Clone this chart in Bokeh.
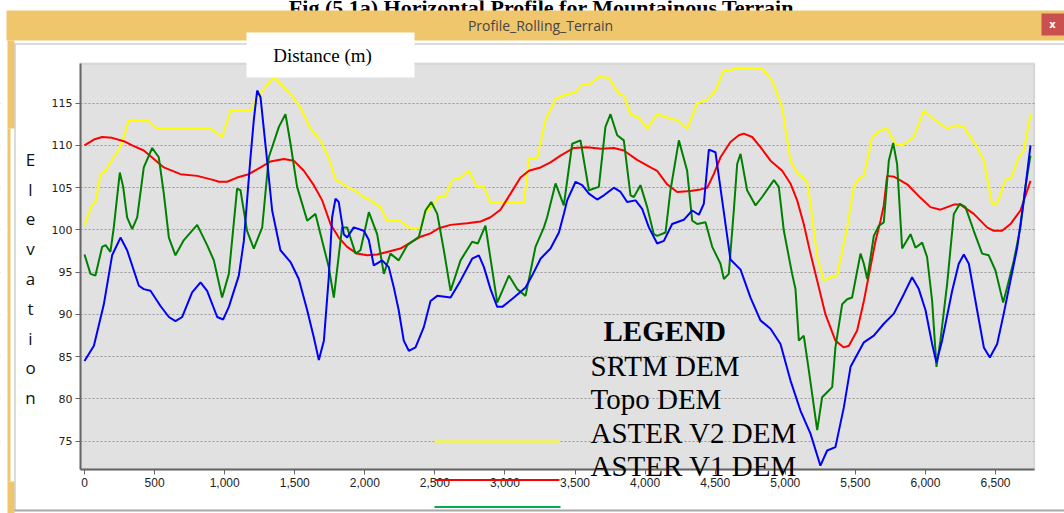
from bokeh.plotting import figure
from bokeh.models import Range1d, FixedTicker, NumeralTickFormatter, Label, BoxAnnotation
from bokeh.embed import file_html
from bokeh.resources import INLINE

# ---------------- data (distance in m, elevation) ----------------
srtm_dist = [0, 55, 78, 114, 150, 209, 257, 316, 447, 518,
             899, 982, 1042, 1184, 1232, 1351, 1398, 1470, 1541, 1612,
             1684, 1741, 1791, 1874, 1945, 1993, 2040, 2112, 2159, 2254,
             2314, 2362, 2398, 2433, 2493, 2528, 2576, 2624, 2683, 2742,
             2802, 2850, 2897, 3135, 3171, 3230, 3289, 3361, 3432, 3503,
             3551, 3611, 3670, 3741, 3813, 3848, 3896, 3955, 4015, 4086,
             4157, 4229, 4300, 4372, 4443, 4502, 4562, 4609, 4657, 4835,
             4907, 4978, 5037, 5085, 5156, 5180, 5228, 5275, 5323, 5370,
             5442, 5489, 5525, 5561, 5620, 5680, 5727, 5786, 5834, 5917,
             5989, 6060, 6155, 6226, 6274, 6369, 6417, 6476, 6512, 6572,
             6607, 6666, 6702, 6750]
srtm_elev = [100.6, 103.0, 103.3, 106.6, 107.0, 108.6, 109.8, 113.0, 113.0, 112.0,
             112.0, 111.0, 114.1, 114.1, 115.7, 118.1, 117.3, 116.1, 114.5, 112.0,
             110.6, 108.6, 106.0, 105.1, 104.5, 103.9, 103.5, 102.7, 101.1, 101.1,
             100.3, 100.1, 100.3, 102.1, 103.1, 103.9, 104.0, 105.9, 106.2, 107.0,
             105.1, 105.1, 103.2, 103.2, 108.4, 108.5, 113.0, 115.5, 116.0, 116.3,
             117.2, 117.3, 118.1, 118.0, 116.1, 115.9, 113.7, 113.3, 112.0, 113.7,
             113.3, 113.0, 112.0, 115.0, 115.4, 116.5, 118.9, 118.9, 119.2, 119.1,
             117.7, 114.5, 108.2, 106.8, 105.7, 103.1, 96.8, 94.0, 94.4, 94.6,
             100.3, 105.1, 106.1, 106.4, 111.0, 111.8, 112.0, 110.2, 110.0, 111.0,
             114.1, 113.1, 112.0, 112.4, 112.2, 109.8, 108.2, 103.1, 103.1, 106.0,
             106.0, 108.6, 109.4, 113.7]

topo_dist = [0, 67, 126, 197, 281, 340, 423, 495, 566, 685,
             804, 923, 958, 1018, 1089, 1172, 1256, 1327, 1422, 1493,
             1565, 1636, 1696, 1755, 1814, 1874, 1945, 2017, 2088, 2159,
             2254, 2326, 2398, 2469, 2528, 2612, 2731, 2826, 2897, 2968,
             3040, 3111, 3171, 3254, 3325, 3396, 3492, 3587, 3682, 3777,
             3848, 3943, 4039, 4086, 4157, 4229, 4324, 4395, 4443, 4490,
             4538, 4609, 4669, 4704, 4764, 4823, 4895, 4978, 5037, 5085,
             5132, 5180, 5228, 5287, 5358, 5418, 5454, 5513, 5561, 5608,
             5644, 5680, 5703, 5727, 5775, 5870, 5965, 6036, 6107, 6203,
             6250, 6345, 6440, 6488, 6547, 6607, 6678, 6750]
topo_elev = [110.0, 110.7, 111.0, 110.9, 110.5, 110.0, 109.4, 108.4, 107.4, 106.6,
             106.4, 105.9, 105.7, 105.7, 106.2, 106.6, 107.4, 108.1, 108.4, 108.2,
             107.0, 105.3, 103.5, 100.7, 99.1, 98.0, 97.2, 97.0, 97.1, 97.4,
             97.8, 98.5, 99.2, 99.6, 100.2, 100.6, 100.8, 101.0, 101.5, 102.4,
             104.3, 106.2, 107.0, 107.4, 108.0, 108.8, 109.7, 109.8, 109.6, 109.7,
             109.4, 108.3, 107.4, 107.0, 105.4, 104.5, 104.6, 104.8, 105.0, 106.6,
             108.6, 110.4, 111.2, 111.4, 111.0, 109.8, 108.2, 107.0, 105.5, 103.5,
             100.7, 97.2, 94.0, 90.0, 86.9, 86.1, 86.3, 88.1, 91.6, 95.6,
             98.7, 101.1, 102.9, 106.4, 106.3, 105.4, 103.8, 102.7, 102.4, 103.0,
             103.0, 101.9, 100.3, 99.9, 99.9, 100.7, 102.3, 105.8]

aster2_dist = [0, 43, 78, 126, 150, 185, 209, 252, 276, 304,
               340, 376, 423, 483, 530, 566, 602, 649, 709, 804,
               875, 923, 982, 1030, 1089, 1113, 1160, 1208, 1268, 1315,
               1387, 1434, 1470, 1517, 1589, 1648, 1684, 1743, 1779, 1838,
               1874, 1934, 1969, 2029, 2088, 2136, 2183, 2242, 2303, 2386,
               2433, 2474, 2517, 2564, 2612, 2683, 2766, 2807, 2861, 2945,
               3028, 3087, 3147, 3218, 3278, 3301, 3361, 3420, 3480, 3539,
               3599, 3670, 3717, 3753, 3801, 3848, 3896, 3920, 3967, 4015,
               4062, 4086, 4146, 4181, 4241, 4300, 4336, 4372, 4431, 4479,
               4538, 4562, 4597, 4633, 4657, 4681, 4728, 4788, 4835, 4919,
               4954, 4990, 5049, 5073, 5097, 5132, 5168, 5228, 5263, 5299,
               5335, 5358, 5406, 5442, 5477, 5537, 5561, 5585, 5632, 5668,
               5703, 5739, 5770, 5798, 5834, 5894, 5929, 5977, 6012, 6048,
               6079, 6107, 6155, 6203, 6246, 6286, 6345, 6405, 6452, 6500,
               6555, 6583, 6631, 6678, 6714, 6750]
aster2_elev = [97.1, 94.8, 94.6, 98.0, 98.2, 97.4, 100.3, 106.8, 105.1, 101.5,
               100.1, 101.5, 107.4, 109.7, 108.6, 104.3, 99.1, 97.0, 98.8, 100.6,
               98.2, 96.4, 92.0, 94.8, 104.9, 104.7, 99.9, 97.8, 100.3, 108.6,
               112.2, 113.7, 110.2, 105.1, 101.1, 101.9, 99.5, 95.6, 92.0, 100.3,
               100.3, 97.2, 97.6, 102.1, 99.5, 94.8, 97.2, 96.4, 98.2, 99.2,
               102.3, 103.3, 101.9, 97.6, 92.8, 96.4, 98.6, 98.4, 100.5, 91.4,
               94.6, 93.0, 92.2, 98.0, 100.3, 101.5, 105.5, 102.9, 110.2, 110.6,
               104.7, 105.1, 112.2, 113.7, 111.2, 110.6, 104.1, 103.9, 105.3, 102.7,
               99.5, 99.3, 99.7, 104.7, 110.6, 107.0, 101.1, 100.7, 100.9, 98.0,
               96.0, 94.2, 94.8, 102.3, 107.8, 109.0, 104.7, 102.9, 103.9, 105.9,
               105.1, 99.9, 94.8, 93.0, 86.9, 87.5, 83.4, 76.3, 80.2, 80.8,
               81.4, 86.1, 91.2, 91.8, 92.0, 97.2, 96.0, 94.2, 99.3, 100.5,
               100.9, 108.2, 110.3, 107.8, 97.8, 99.5, 97.9, 98.5, 96.8, 91.6,
               83.8, 86.9, 93.6, 101.9, 103.1, 102.7, 99.9, 97.2, 97.0, 95.2,
               91.4, 93.2, 96.4, 100.3, 105.1, 108.8]

aster1_dist = [0, 67, 138, 197, 257, 304, 352, 388, 423, 471,
               542, 602, 649, 697, 768, 828, 875, 947, 989, 1030,
               1101, 1137, 1160, 1184, 1208, 1232, 1256, 1303, 1339, 1398,
               1470, 1529, 1589, 1636, 1672, 1708, 1743, 1767, 1791, 1814,
               1850, 1874, 1921, 1993, 2029, 2064, 2124, 2171, 2207, 2242,
               2278, 2314, 2362, 2421, 2469, 2517, 2612, 2683, 2766, 2814,
               2850, 2897, 2945, 2981, 3064, 3147, 3194, 3254, 3325, 3385,
               3420, 3444, 3504, 3551, 3599, 3658, 3706, 3777, 3825, 3872,
               3932, 3979, 4027, 4086, 4134, 4193, 4276, 4336, 4384, 4419,
               4455, 4502, 4550, 4609, 4681, 4752, 4823, 4895, 4966, 5037,
               5109, 5180, 5251, 5299, 5358, 5418, 5466, 5561, 5632, 5703,
               5775, 5846, 5905, 5953, 6001, 6048, 6079, 6119, 6191, 6238,
               6274, 6310, 6369, 6417, 6460, 6512, 6559, 6607, 6655, 6702,
               6750]
aster1_elev = [84.5, 86.3, 91.2, 97.0, 99.1, 97.6, 95.2, 93.4, 93.0, 92.8,
               91.0, 89.7, 89.2, 89.7, 92.6, 93.8, 92.8, 89.7, 89.4, 90.9,
               94.6, 98.7, 103.5, 108.5, 113.0, 116.5, 115.7, 108.2, 102.3, 97.6,
               96.2, 94.2, 90.5, 87.3, 84.6, 86.9, 94.4, 101.5, 103.7, 103.3,
               99.5, 99.1, 100.3, 99.9, 98.8, 95.8, 96.4, 95.6, 93.2, 90.5,
               86.9, 85.7, 86.1, 88.5, 91.6, 92.2, 92.0, 94.0, 96.6, 97.0,
               95.6, 93.0, 90.9, 90.9, 92.0, 93.2, 94.6, 96.6, 97.8, 99.7,
               101.9, 103.5, 105.7, 105.3, 104.3, 103.6, 104.1, 105.0, 104.5, 103.3,
               103.5, 102.5, 100.3, 98.4, 98.7, 100.7, 101.2, 102.3, 101.8, 103.1,
               109.5, 109.2, 103.5, 96.5, 95.3, 92.0, 89.3, 88.3, 86.5, 82.2,
               78.6, 75.9, 72.1, 73.9, 74.3, 79.0, 83.8, 86.7, 87.5, 88.9,
               90.1, 92.4, 94.4, 93.0, 90.5, 86.5, 84.3, 86.9, 92.8, 96.0,
               97.1, 96.0, 90.5, 86.1, 84.9, 86.5, 90.1, 94.0, 97.9, 103.5,
               110.0]

x_ticks = [0, 500, 1000, 1500, 2000, 2500, 3000, 3500, 4000, 4500, 5000, 5500, 6000, 6500]
y_ticks = [75, 80, 85, 90, 95, 100, 105, 110, 115]

legend_title = "LEGEND"
legend_labels = ["SRTM DEM", "Topo DEM", "ASTER V2 DEM", "ASTER V1 DEM"]
window_title = "Profile_Rolling_Terrain"
fig_caption = "Fig (5.1a) Horizontal Profile for Mountainous Terrain"
x_title = "Distance (m)"
y_title = "Elevation"

# ---------------- geometry (whole canvas is the frame) ----------------
W, H = 1064, 513
PX_PER_M = 0.14015          # page pixels per metre
PX_PER_UNIT = 8.45          # page pixels per elevation unit
X_ZERO_PX, Y115_PX = 84.0, 102.7
XMIN = -X_ZERO_PX / PX_PER_M
XMAX = (W - X_ZERO_PX) / PX_PER_M
YMAX = 115 + Y115_PX / PX_PER_UNIT
YMIN = 115 - (H - Y115_PX) / PX_PER_UNIT
PL, PR, PT, PB = 80, 1034, 63, 469   # plot-area edges (page px)


def dx(px):
    return XMIN + px * (XMAX - XMIN) / W


def dy(py):
    return YMAX - py * (YMAX - YMIN) / H


p = figure(width=W, height=H, output_backend="svg", toolbar_location=None,
           x_range=Range1d(XMIN, XMAX), y_range=Range1d(YMIN, YMAX), min_border=0)
p.background_fill_color = "white"
p.border_fill_color = "white"
p.outline_line_color = None

# plot area
p.add_layout(BoxAnnotation(left=dx(PL), right=dx(PR), top=dy(PT), bottom=dy(PB),
                           fill_color="#E1E1E1", fill_alpha=1.0, line_color="#A0A0A0",
                           line_width=2, level="image"))

p.line(srtm_dist, srtm_elev, line_color="#FFFF00", line_width=2)
p.line(topo_dist, topo_elev, line_color="#FF0000", line_width=2)
p.line(aster2_dist, aster2_elev, line_color="#008000", line_width=2)
p.line(aster1_dist, aster1_elev, line_color="#0000FF", line_width=2)

p.xaxis.fixed_location = dy(PB)
p.yaxis.fixed_location = dx(PL)
p.xaxis.bounds = (dx(PL), dx(PR))
p.yaxis.bounds = (dy(PB), dy(PT))
p.xaxis.ticker = FixedTicker(ticks=x_ticks)
p.xaxis.formatter = NumeralTickFormatter(format="0,0")
p.yaxis.ticker = FixedTicker(ticks=y_ticks)
for ax in (p.xaxis, p.yaxis):
    ax.axis_line_color = "#666666"
    ax.axis_line_width = 2
    ax.major_tick_line_color = "#666666"
    ax.major_tick_out = 5
    ax.major_tick_in = 0
    ax.minor_tick_line_color = None
    ax.major_label_text_color = "#222222"
p.yaxis.major_label_text_font = "DejaVu Sans"
p.yaxis.major_label_text_font_size = "11px"
p.yaxis.major_label_standoff = 3
p.xaxis.major_label_text_font = "'Liberation Sans Narrow', 'Liberation Sans', sans-serif"
p.xaxis.major_label_text_font_size = "12px"
p.xaxis.major_label_standoff = 3

p.xgrid.visible = False
p.ygrid.grid_line_color = "#999999"
p.ygrid.grid_line_dash = "2 2"
p.ygrid.grid_line_width = 1


def box(x0, x1, y0, y1, color, level="overlay"):
    p.add_layout(BoxAnnotation(left=dx(x0), right=dx(x1), top=dy(y0), bottom=dy(y1),
                               fill_color=color, fill_alpha=1.0, line_color=None,
                               level=level))


def label(px, py, text, font, size, color="black", align="center", baseline="middle", style="normal"):
    p.add_layout(Label(x=dx(px), y=dy(py), text=text, text_font=font, text_font_size=size,
                       text_color=color, text_align=align, text_baseline=baseline,
                       text_font_style=style, level="overlay"))


# keep the dotted grid inside the plot area (cover it left and right of the frame)
box(0, PL - 1, 50, 505, "white", level="glyph")
box(PR + 1, W, 50, 505, "white", level="glyph")

ORANGE = "#F0C66C"
# caption above the window (cut off at the top, as in the original)
label(541, 6.5, fig_caption, "Liberation Serif", "22px", baseline="alphabetic", style="bold")
# window title bar
box(6, 1064, 10, 40, ORANGE)
box(1041, 1064, 13, 35, "#C9504F")
label(1052, 24, "x", "DejaVu Sans", "10px", color="white", style="bold")
label(540, 25, window_title, "Open Sans", "14px", color="#454545")
# window borders
box(7, 14, 40, 128, ORANGE)
box(7, 10, 128, 481, ORANGE)
box(7, 14, 481, 513, ORANGE)
box(14, 15, 44, 510, "#B8B8B8")
box(14, 1064, 43, 44, "#B8B8B8")
box(14, 1064, 509, 511, "#A8A8A8")
# "Distance (m)" box
box(246, 414, 32, 77, "white")
label(322, 55, x_title, "Liberation Serif", "19px")
# "Elevation" letters
for i, ch in enumerate(y_title):
    label(30, 159 + i * 29.75, ch, "Open Sans", "17px", color="#111111", baseline="alphabetic")
# legend
label(603, 330.7, legend_title, "Liberation Serif", "29px", align="left", baseline="alphabetic", style="bold")
for i, t in enumerate(legend_labels):
    label(590, 365 + i * 33.6, t, "Liberation Serif", "29px", align="left", baseline="alphabetic")
box(434, 559, 440, 442, "#FFFF00")
box(434, 559, 478.5, 480.5, "#FF0000")
box(434, 560, 505.5, 507.5, "#00B050")

open("out.html", "w").write(file_html(p, INLINE))
